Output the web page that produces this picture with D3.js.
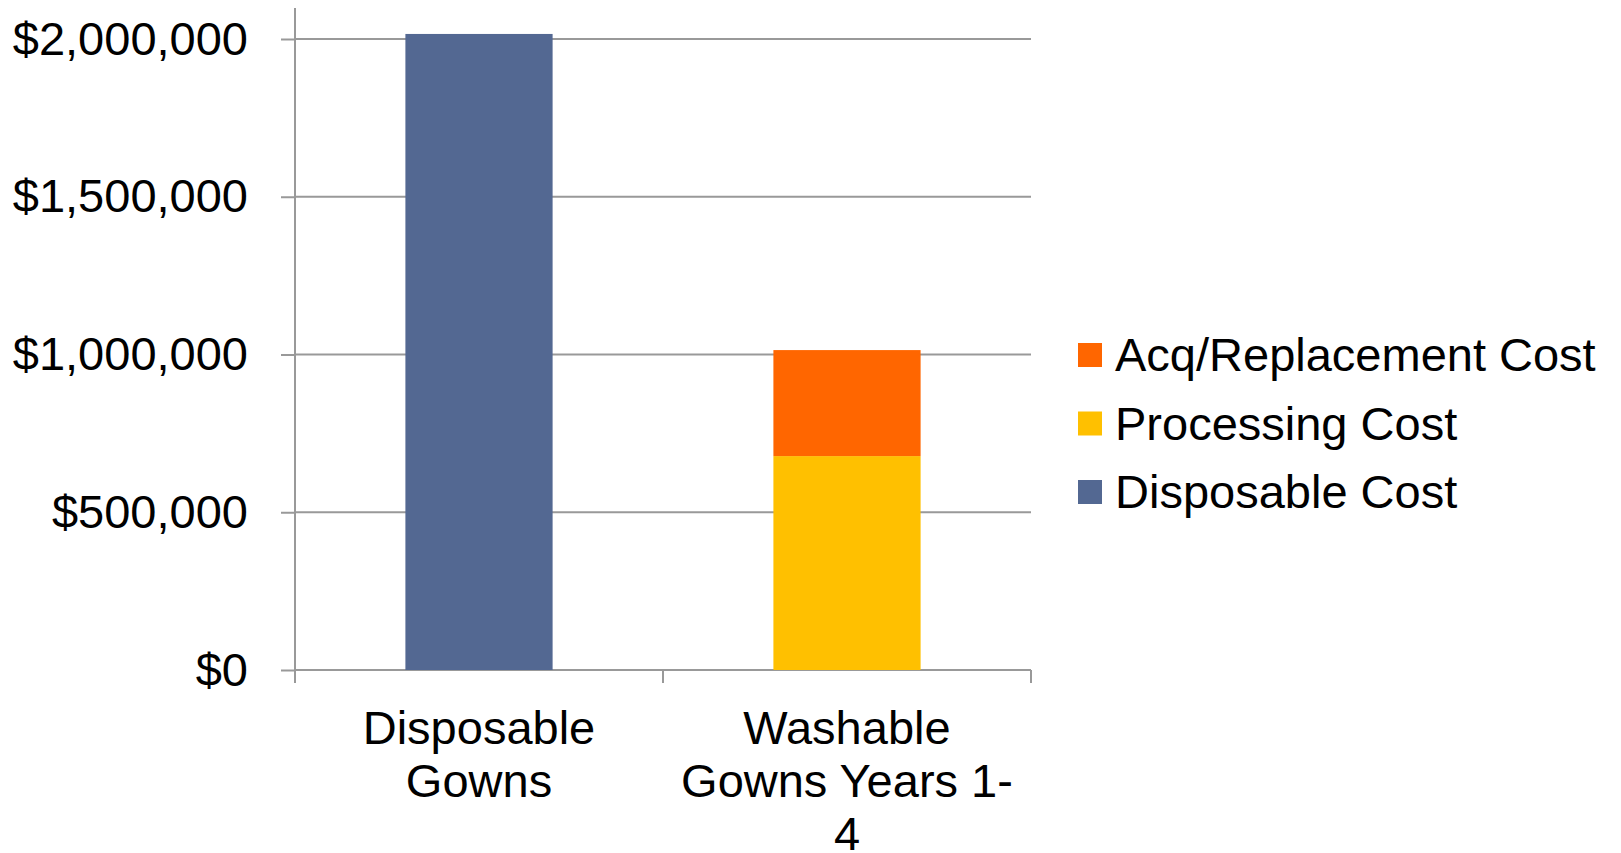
<!DOCTYPE html>
<html>
<head>
<meta charset="utf-8">
<script src="https://cdn.jsdelivr.net/npm/d3@7"></script>
<style>
  html, body { margin: 0; padding: 0; background: #fff; }
  svg { display: block; font-family: "Liberation Sans", Arial, sans-serif; }
</style>
</head>
<body>
<div id="chart"></div>
<script>
var width = 1621;
var height = 853;

// data
var categories = ["Disposable Gowns", "Washable Gowns Years 1-4"];
var categoryLines = [["Disposable", "Gowns"], ["Washable", "Gowns Years 1-", "4"]];
var seriesNames = ["Disposable Cost", "Processing Cost", "Acq/Replacement Cost"];
var disposableCost = [2016000, 0];
var processingCost = [0, 678000];
var acqCost = [0, 336000];
var yTicks = [0, 500000, 1000000, 1500000, 2000000];
var colors = ["#536892", "#FFC000", "#FF6600"];

// plot box (note: "top" is taken by window.top)
var plotLeft = 295, plotRight = 1031, plotTop = 39, plotBottom = 670;

var x = d3.scaleBand()
  .domain(categories)
  .range([plotLeft, plotRight])
  .paddingInner(0.6)
  .paddingOuter(0.3);

var y = d3.scaleLinear()
  .domain([0, 2000000])
  .range([plotBottom, plotTop]);

var table = categories.map(function(c, i) {
  return {
    cat: c,
    "Disposable Cost": disposableCost[i],
    "Processing Cost": processingCost[i],
    "Acq/Replacement Cost": acqCost[i]
  };
});
var stacked = d3.stack().keys(seriesNames)(table);
var color = d3.scaleOrdinal().domain(seriesNames).range(colors);

var svg = d3.select("#chart").append("svg")
  .attr("width", width)
  .attr("height", height);

// grid
svg.append("g")
  .selectAll("line")
  .data(yTicks)
  .join("line")
    .attr("x1", plotLeft)
    .attr("x2", plotRight)
    .attr("y1", d => y(d))
    .attr("y2", d => y(d))
    .attr("stroke", "#999")
    .attr("stroke-width", 2);

// bars
svg.append("g")
  .selectAll("g")
  .data(stacked)
  .join("g")
    .attr("fill", d => color(d.key))
  .selectAll("rect")
  .data(d => d.filter(p => p[1] > p[0]))
  .join("rect")
    .attr("x", d => x(d.data.cat))
    .attr("width", x.bandwidth())
    .attr("y", d => y(d[1]))
    .attr("height", d => y(d[0]) - y(d[1]));

// y axis
var gy = svg.append("g")
  .attr("transform", `translate(${plotLeft},0)`)
  .call(d3.axisLeft(y)
    .tickValues(yTicks)
    .tickSize(14)
    .tickPadding(33)
    .tickFormat(d => "$" + d3.format(",")(d)));
gy.select(".domain").remove();
gy.selectAll(".tick line").attr("stroke", "#999").attr("stroke-width", 2);
gy.selectAll(".tick text")
  .attr("font-size", 47)
  .attr("font-family", "Liberation Sans, Arial, sans-serif")
  .attr("fill", "#000");
gy.append("line")
  .attr("y1", 8)
  .attr("y2", plotBottom + 13)
  .attr("stroke", "#999")
  .attr("stroke-width", 2);

// x axis ticks at band edges
var step = x.step();
svg.append("g")
  .selectAll("line")
  .data(categories.map(c => x(c) + x.bandwidth() / 2 + step / 2))
  .join("line")
    .attr("x1", d => d)
    .attr("x2", d => d)
    .attr("y1", plotBottom)
    .attr("y2", plotBottom + 13)
    .attr("stroke", "#999")
    .attr("stroke-width", 2);

svg.append("g")
  .selectAll("text")
  .data(categories)
  .join("text")
    .attr("text-anchor", "middle")
    .attr("font-size", 47)
    .attr("fill", "#000")
  .selectAll("tspan")
  .data((c, i) => categoryLines[i].map(l => ({ l: l, c: c })))
  .join("tspan")
    .attr("x", d => x(d.c) + x.bandwidth() / 2)
    .attr("y", (d, j) => 744 + j * 53)
    .text(d => d.l);

// legend
var legend = svg.append("g")
  .selectAll("g")
  .data(seriesNames.slice().reverse())
  .join("g")
    .attr("transform", (d, i) => `translate(1078,${355 + i * 68.5})`);
legend.append("rect")
  .attr("y", -12)
  .attr("width", 24)
  .attr("height", 24)
  .attr("fill", d => color(d));
legend.append("text")
  .attr("x", 37)
  .attr("dy", "0.35em")
  .attr("font-size", 47)
  .attr("fill", "#000")
  .text(d => d);
</script>
</body>
</html>
